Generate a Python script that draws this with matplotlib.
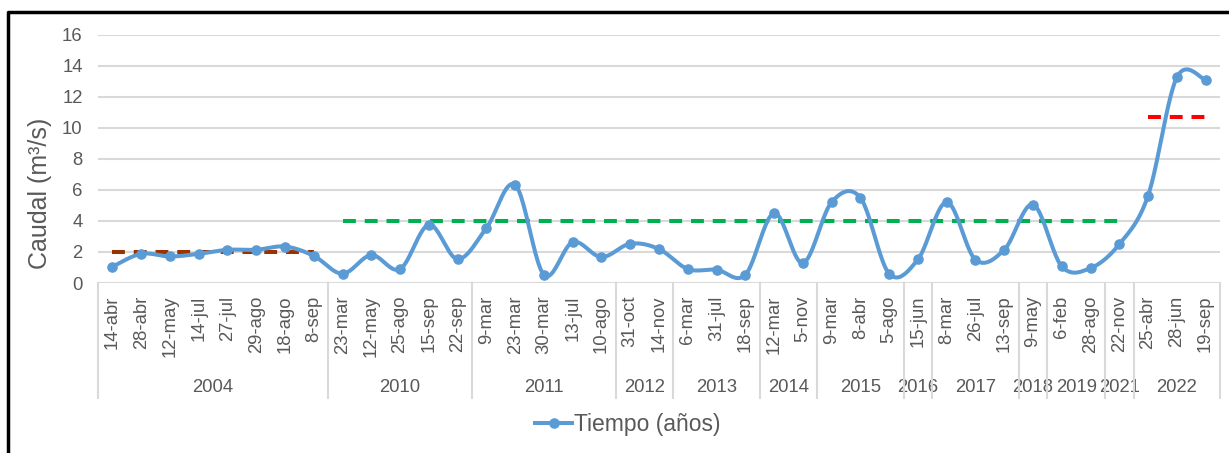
import numpy as np
import matplotlib
matplotlib.use("Agg")
from matplotlib import pyplot as plt
from matplotlib.lines import Line2D
import matplotlib.transforms as mtransforms

plt.rcParams['font.family'] = ['Liberation Sans', 'DejaVu Sans']

# datos
fechas = ['14-abr', '28-abr', '12-may', '14-jul', '27-jul', '29-ago', '18-ago', '8-sep',
          '23-mar', '12-may', '25-ago', '15-sep', '22-sep',
          '9-mar', '23-mar', '30-mar', '13-jul', '10-ago',
          '31-oct', '14-nov',
          '6-mar', '31-jul', '18-sep',
          '12-mar', '5-nov',
          '9-mar', '8-abr', '5-ago',
          '15-jun',
          '8-mar', '26-jul', '13-sep',
          '9-may',
          '6-feb', '28-ago',
          '22-nov',
          '25-abr', '28-jun', '19-sep']
caudal = [1.05, 1.88, 1.71, 1.88, 2.14, 2.14, 2.35, 1.75,
          0.60, 1.80, 0.90, 3.75, 1.54,
          3.54, 6.32, 0.53, 2.63, 1.67,
          2.53, 2.19,
          0.90, 0.86, 0.53,
          4.50, 1.29,
          5.21, 5.49, 0.60,
          1.52,
          5.21, 1.50, 2.14,
          5.05,
          1.07, 0.96,
          2.50,
          5.63, 13.25, 13.07]
anios = ['2004', '2010', '2011', '2012', '2013', '2014', '2015', '2016',
         '2017', '2018', '2019', '2021', '2022']
n_por_anio = [8, 5, 5, 2, 3, 2, 3, 1, 3, 1, 2, 1, 3]

# lineas de referencia (valor, primer anio, ultimo anio, color)
ref_valores = [2.0, 4.0, 10.67]
ref_desde = ['2004', '2010', '2022']
ref_hasta = ['2004', '2021', '2022']
ref_colores = ['#993300', '#00B050', '#FF0000']

azul = '#5B9BD5'
gris_txt = '#595959'
gris_lin = '#D9D9D9'

W, H = 1229, 453
fig = plt.figure(figsize=(W / 100, H / 100), dpi=100)
ax = fig.add_axes([98 / W, (H - 283) / H, (1220 - 98) / W, (283 - 34.7) / H])

x = np.arange(len(caudal))
y = np.array(caudal, dtype=float)

# suavizado tipo Excel (Catmull-Rom / Bezier)
px = np.concatenate([[x[0]], x, [x[-1]]]).astype(float)
py = np.concatenate([[y[0]], y, [y[-1]]])
sx, sy = [], []
t = np.linspace(0, 1, 25)
for i in range(1, len(px) - 2):
    p0 = np.array([px[i], py[i]])
    p3 = np.array([px[i + 1], py[i + 1]])
    c1 = p0 + (p3 - np.array([px[i - 1], py[i - 1]])) / 6
    c2 = p3 - (np.array([px[i + 2], py[i + 2]]) - p0) / 6
    b = ((1 - t) ** 3)[:, None] * p0 + (3 * (1 - t) ** 2 * t)[:, None] * c1 \
        + (3 * (1 - t) * t ** 2)[:, None] * c2 + (t ** 3)[:, None] * p3
    sx.extend(b[:, 0])
    sy.extend(b[:, 1])

ax.plot(sx, sy, color=azul, lw=2.9, solid_capstyle='round', zorder=4, clip_on=False)
ax.plot(x, y, 'o', color=azul, ms=6.6, zorder=5, clip_on=False)

# limites de cada anio
ini = np.concatenate([[0], np.cumsum(n_por_anio)[:-1]])
fin = np.cumsum(n_por_anio) - 1
for val, a, b_, col in zip(ref_valores, ref_desde, ref_hasta, ref_colores):
    i0 = ini[anios.index(a)]
    i1 = fin[anios.index(b_)]
    ax.plot([i0, i1], [val, val], color=col, lw=2.9, dashes=(3.2, 2.2),
            dash_capstyle='butt', zorder=3)

ax.set_xlim(-0.5, len(caudal) - 0.5)
ax.set_ylim(0, 16)
ax.set_yticks(np.arange(0, 17, 2))
ax.grid(axis='y', color=gris_lin, lw=1.5)
ax.set_axisbelow(True)
for s in ax.spines.values():
    s.set_visible(False)
ax.set_xticks(x)
ax.set_xticklabels(fechas, rotation=90, va='top', ha='center')
ax.tick_params(axis='x', length=0, pad=9, labelsize=13.3, labelcolor=gris_txt)
ax.tick_params(axis='y', length=0, pad=11, labelsize=13.3, labelcolor=gris_txt)
fig.text(40 / W, (H - 193) / H, 'Caudal (m³/s)', rotation=90, ha='center', va='center',
         fontsize=18, color=gris_txt)

# eje de categorias con anios
tr = mtransforms.blended_transform_factory(ax.transData, fig.transFigure)
y_top = (H - 283) / H
y_bot = (H - 398) / H
bordes = np.concatenate([ini - 0.5, [len(caudal) - 0.5]])
for bx in bordes:
    fig.add_artist(Line2D([bx, bx], [y_top, y_bot], transform=tr, color=gris_lin, lw=1.5))
for a, i0, i1 in zip(anios, ini, fin):
    ax.text((i0 + i1) / 2, (H - 388) / H, a, transform=tr, ha='center', va='center',
            fontsize=13.3, color=gris_txt)

# leyenda
h = Line2D([], [], color=azul, lw=2.9, marker='o', ms=6.6)
fig.legend([h], ['Tiempo (años)'], loc='center', bbox_to_anchor=(628 / W, (H - 425) / H),
           frameon=False, fontsize=16.5, handlelength=1.6, handletextpad=0.1,
           labelcolor=gris_txt)

# marco negro
fig.add_artist(Line2D([8 / W, 8 / W, 1.0], [0.0, (H - 12) / H, (H - 12) / H],
                      transform=fig.transFigure, color='black', lw=2.5))

fig.savefig('out.png', dpi=100)
